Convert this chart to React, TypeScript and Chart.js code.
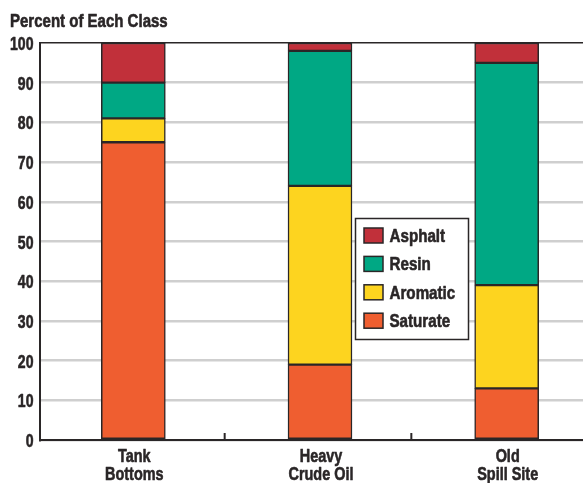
import React, { useEffect, useRef } from "react";
import { Chart, registerables } from "chart.js";

Chart.register(...registerables);

const categories: string[][] = [["Tank", "Bottoms"], ["Heavy", "Crude Oil"], ["Old", "Spill Site"]];
const saturate = [75, 19, 13];
const aromatic = [6, 45, 26];
const resin = [9, 34, 56];
const asphalt = [10, 2, 5];
const yTicks = [0, 10, 20, 30, 40, 50, 60, 70, 80, 90, 100];
const titleText = "Percent of Each Class";

const FONT = "'Liberation Sans', Arial, Helvetica, sans-serif";
const DARK = "#2a2627";

function narrow(ctx: any, text: string, x: number, y: number, align: string, size: number, sx: number) {
  ctx.save();
  ctx.translate(x, y);
  ctx.scale(sx, 1);
  ctx.font = `bold ${size}px ${FONT}`;
  ctx.fillStyle = DARK;
  ctx.strokeStyle = DARK;
  ctx.lineWidth = 0.6;
  ctx.lineJoin = "round";
  ctx.textBaseline = "alphabetic";
  ctx.textAlign = align;
  ctx.fillText(text, 0, 0);
  ctx.strokeText(text, 0, 0);
  ctx.restore();
}

const textPlugin = {
  id: "narrowText",
  afterDraw(chart: any) {
    const ctx = chart.ctx;
    narrow(ctx, titleText, 10, 27, "left", 19, 0.79);
    const ys = chart.scales.y;
    ys.ticks.forEach((t: any) => {
      const py = ys.getPixelForValue(t.value);
      narrow(ctx, String(t.value), 33.5, py + 7, "right", 19, 0.74);
    });
    const xs = chart.scales.x;
    const bottom = chart.chartArea.bottom;
    (chart.data.labels as string[][]).forEach((lab, i) => {
      const px = xs.getPixelForValue(i) + 1;
      lab.forEach((line, j) => {
        narrow(ctx, line, px, bottom + 22 + j * 18, "center", 19, 0.76);
      });
    });
  },
};

const tickPlugin = {
  id: "catTicks",
  afterDatasetsDraw(chart: any) {
    const ctx = chart.ctx;
    const xs = chart.scales.x;
    const bottom = chart.chartArea.bottom;
    const n = chart.data.labels.length;
    ctx.save();
    ctx.strokeStyle = DARK;
    ctx.lineWidth = 2;
    for (let i = 0; i < n - 1; i++) {
      const x = (xs.getPixelForValue(i) + xs.getPixelForValue(i + 1)) / 2 - 2;
      ctx.beginPath();
      ctx.moveTo(x, bottom);
      ctx.lineTo(x, bottom - 7);
      ctx.stroke();
    }
    ctx.restore();
  },
};

const legendPlugin = {
  id: "boxLegend",
  afterDraw(chart: any) {
    const ctx = chart.ctx;
    const ds = chart.data.datasets.slice().reverse();
    const x0 = 355.5, y0 = 218.5, w = 113, h = 121;
    ctx.save();
    ctx.fillStyle = "#ffffff";
    ctx.fillRect(x0, y0, w, h);
    ctx.strokeStyle = DARK;
    ctx.lineWidth = 1.5;
    ctx.strokeRect(x0, y0, w, h);
    ds.forEach((d: any, i: number) => {
      const cy = 235.5 + i * 28.4;
      ctx.fillStyle = d.backgroundColor;
      ctx.fillRect(364, cy - 7.5, 19, 15);
      ctx.strokeStyle = DARK;
      ctx.lineWidth = 1.5;
      ctx.strokeRect(364, cy - 7.5, 19, 15);
      narrow(ctx, d.label, 389.5, cy + 6.5, "left", 18.5, 0.82);
    });
    ctx.restore();
  },
};

export default function App() {
  const ref = useRef<HTMLCanvasElement>(null);
  useEffect(() => {
    if (!ref.current) return;
    const mk = (label: string, data: number[], color: string) => ({
      label,
      data,
      backgroundColor: color,
      borderColor: DARK,
      borderWidth: 1.5,
      borderSkipped: false,
      barThickness: 64,
    });
    const chart = new Chart(ref.current, {
      type: "bar",
      data: {
        labels: categories,
        datasets: [
          mk("Saturate", saturate, "#EF5E30"),
          mk("Aromatic", aromatic, "#FDD41F"),
          mk("Resin", resin, "#00A884"),
          mk("Asphalt", asphalt, "#C1303A"),
        ],
      },
      options: {
        responsive: false,
        animation: false,
        layout: { padding: { top: 43, right: 0, left: 0, bottom: 0 } },
        plugins: { legend: { display: false }, tooltip: { enabled: false }, title: { display: false } },
        scales: {
          x: {
            stacked: true,
            grid: { display: false },
            border: { display: true, color: DARK, width: 2 },
            ticks: { display: false },
            afterFit(scale: any) {
              scale.height = 43;
            },
          },
          y: {
            stacked: true,
            min: 0,
            max: 100,
            afterBuildTicks(scale: any) {
              scale.ticks = yTicks.map((v) => ({ value: v }));
            },
            grid: {
              color: (c: any) => (c.tick && c.tick.value === 100 ? DARK : "#cfcfcf"),
              lineWidth: (c: any) => (c.tick && c.tick.value === 100 ? 1.5 : 2.5),
              drawTicks: false,
            },
            border: { display: true, color: DARK, width: 2 },
            ticks: { display: false },
            afterFit(scale: any) {
              scale.width = 40;
            },
          },
        },
      },
      plugins: [tickPlugin, textPlugin, legendPlugin],
    } as any);
    return () => chart.destroy();
  }, []);
  return (
    <div style={{ position: "fixed", left: 0, top: 0, width: 583, height: 483, overflow: "hidden", background: "#fff" }}>
      <canvas ref={ref} width={600} height={483} style={{ width: 600, height: 483, display: "block" }} />
    </div>
  );
}
